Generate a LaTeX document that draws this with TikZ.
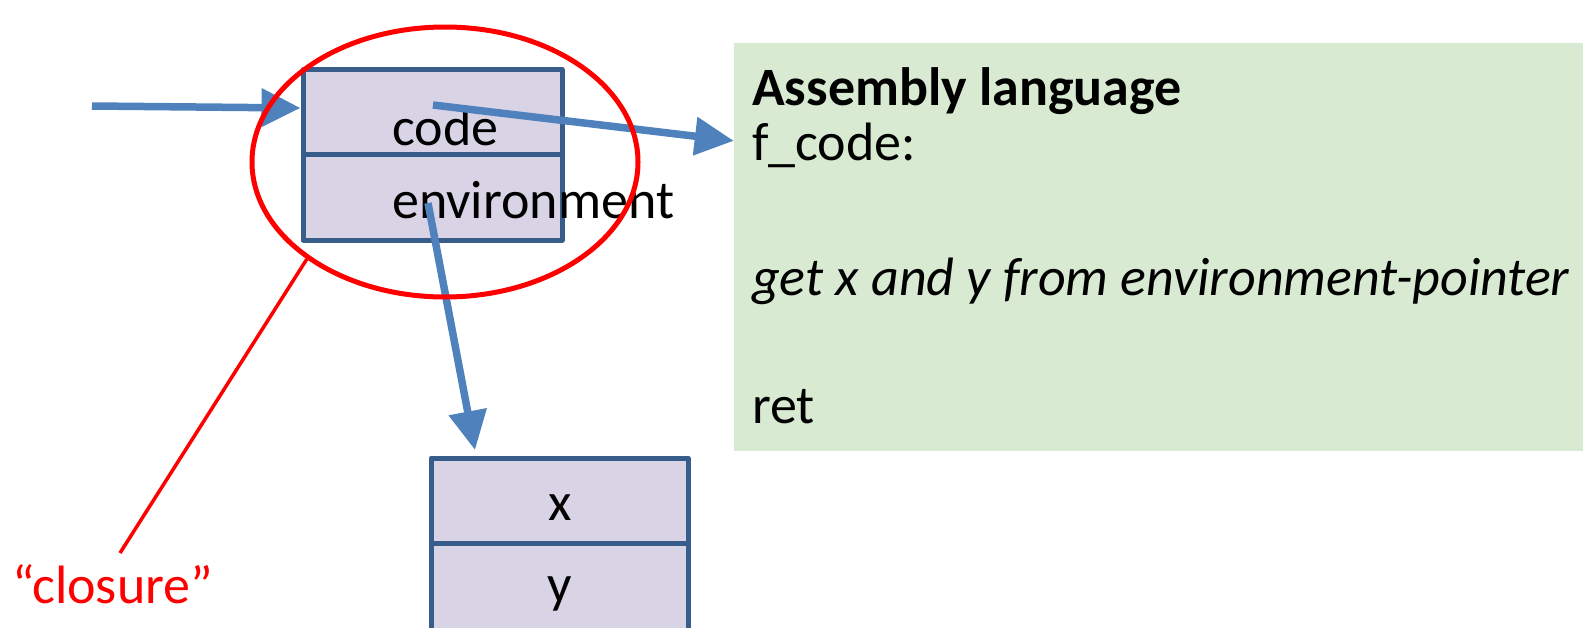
\documentclass[tikz,border=0pt]{standalone}
\usepackage{fontspec}
\setmainfont{Carlito}
\usetikzlibrary{arrows.meta,shapes.geometric,calc}
\definecolor{cellfill}{RGB}{217,211,230}
\definecolor{cellline}{RGB}{56,93,138}
\definecolor{ptrblue}{RGB}{79,129,189}
\definecolor{asmfill}{RGB}{217,234,211}
\definecolor{markred}{RGB}{255,0,0}

\begin{document}
\begin{tikzpicture}[x=1pt,y=-1pt,
  cell/.style={draw=cellline,fill=cellfill,line width=5pt,line join=round,
    inner sep=0pt,minimum width=259pt,minimum height=85pt},
  txt/.style={font=\fontsize{54}{64}\selectfont,inner sep=0pt,anchor=base west},
  ptr/.style={draw=ptrblue,line width=7.5pt,-{Triangle[length=39pt,width=37pt]}},
  ring/.style={ellipse,draw=markred,line width=5pt,inner sep=0pt,
    minimum width=386pt,minimum height=270pt},
  asmbox/.style={fill=asmfill,inner sep=0pt,minimum width=860pt,minimum height=408pt}]
  \useasboundingbox (0,0) rectangle (1583,627);

  % closure record: code pointer and environment pointer
  \node[cell] (codecell) at (432.5,112) {};
  \node[cell,minimum height=86pt] (envcell) at (432.5,197) {};
  \node[txt] (codetxt) at (392,145) {code};
  \node[txt] (envtxt) at (392,218) {environment};

  % environment record holding x and y
  \node[cell,minimum width=257pt] (xcell) at (559.5,500.5) {};
  \node[cell,minimum width=257pt,minimum height=95pt] (ycell) at (559.5,590.5) {};
  \node[txt,anchor=base] (xtxt) at (560,520) {x};
  \node[txt,anchor=base] (ytxt) at (560,602) {y};

  % assembly code for the function body
  \node[asmbox] (asm) at (1164,247) {};
  \node[txt] (asmtitle) at (752,105) {\bfseries Assembly language};
  \node[txt] (asmlabel) at (752,160) {f\_code:};
  \node[txt] (asmbody) at (752,295) {\itshape get x and y from environment-pointer};
  \node[txt] (asmret) at (752,423) {ret};

  % pointers
  \coordinate (caller) at (92,106);
  \coordinate (codeptr) at (433,105);
  \coordinate (envptr) at (428,203);
  \draw[ptr] (caller) -- ([yshift=4pt]codecell.west);
  \draw[ptr] (codeptr) -- ($(asm.north west)!0.24!(asm.south west)$);
  \draw[ptr] (envptr) -- ([xshift=-84.5pt,yshift=5.5pt]xcell.north);

  % the closure marker
  \node[ring] (ring) at (445,162) {};
  \node[txt,text=markred] (closurelbl) at (12,603) {“closure”};
  \coordinate (lblend) at (120,553);
  \draw[markred,line width=3.5pt] (ring.south west) -- (lblend);
\end{tikzpicture}
\end{document}
